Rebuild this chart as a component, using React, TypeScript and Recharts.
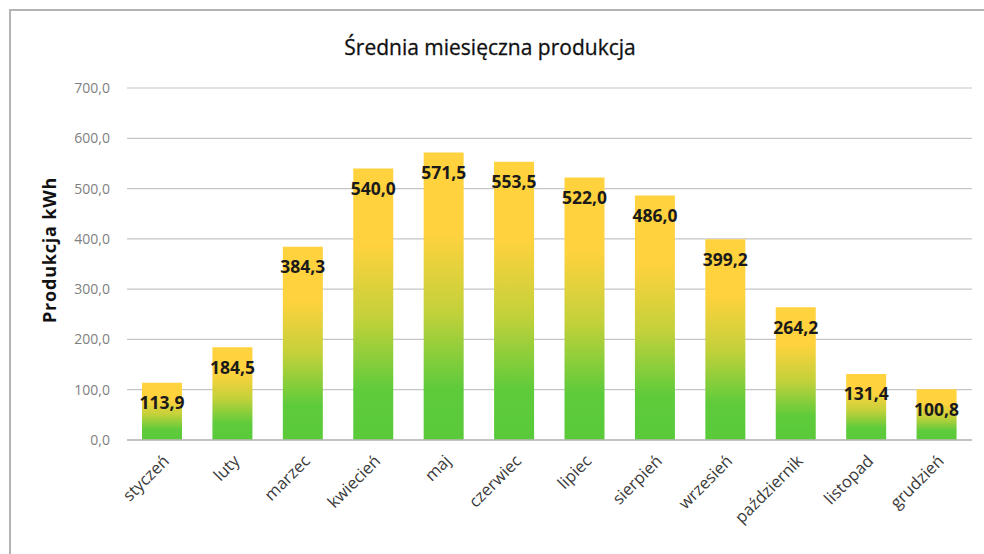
import { BarChart, Bar, XAxis, YAxis, CartesianGrid, LabelList } from "recharts";

const months = [
  "styczeń",
  "luty",
  "marzec",
  "kwiecień",
  "maj",
  "czerwiec",
  "lipiec",
  "sierpień",
  "wrzesień",
  "październik",
  "listopad",
  "grudzień",
];

const production = [113.9, 184.5, 384.3, 540.0, 571.5, 553.5, 522.0, 486.0, 399.2, 264.2, 131.4, 100.8];

const yTicks = [0, 100, 200, 300, 400, 500, 600, 700];

const chartTitle = "Średnia miesięczna produkcja";
const yTitle = "Produkcja kWh";

const data = months.map((m, i) => ({ month: m, value: production[i] }));

const fmt = (v: number) => v.toFixed(1).replace(".", ",");

const FONT = "'Open Sans', 'Noto Sans', sans-serif";

function MonthTick({ x, y, payload }: any) {
  return (
    <text
      x={x + 8}
      y={y + 14}
      textAnchor="end"
      transform={`rotate(-45, ${x + 8}, ${y + 14})`}
      fontSize={16.5}
      fontFamily={FONT}
      fill="#3a3a3a"
    >
      {payload.value}
    </text>
  );
}

function YTitle({ viewBox }: any) {
  const cx = viewBox.x - 18;
  const cy = viewBox.y + viewBox.height / 2 - 14;
  return (
    <text
      x={cx}
      y={cy}
      textAnchor="middle"
      dominantBaseline="central"
      transform={`rotate(-90, ${cx}, ${cy})`}
      fontSize={18}
      fontWeight="bold"
      letterSpacing={0.8}
      fontFamily={FONT}
      fill="#111"
    >
      {yTitle}
    </text>
  );
}

export default function App() {
  return (
    <div
      style={{
        position: "fixed",
        left: 0,
        top: 0,
        width: 984,
        height: 554,
        overflow: "hidden",
        background: "#fff",
      }}
    >
      <div
        style={{
          position: "absolute",
          left: 9,
          top: 9,
          width: 975,
          height: 545,
          borderTop: "2px solid #b4b4b4",
          borderLeft: "2px solid #b4b4b4",
        }}
      >
        <div
          style={{
            position: "absolute",
            left: 0,
            width: 958,
            top: 22,
            textAlign: "center",
            fontFamily: FONT,
            fontSize: 21,
            color: "#111",
            WebkitTextStroke: "0.3px #111",
          }}
        >
          {chartTitle}
        </div>
        <BarChart
          width={973}
          height={540}
          data={data}
          margin={{ top: 77, right: 12, bottom: 31, left: 56 }}
        >
          <defs>
            <linearGradient id="barFill" x1="0" y1="0" x2="0" y2="1">
              <stop offset="0%" stopColor="#FFD23E" />
              <stop offset="28%" stopColor="#FFD23E" />
              <stop offset="55%" stopColor="#C4D13A" />
              <stop offset="82%" stopColor="#5ECB3B" />
              <stop offset="100%" stopColor="#5ACA3A" />
            </linearGradient>
          </defs>
          <CartesianGrid vertical={false} stroke="#c6c6c6" strokeWidth={1.2} />
          <XAxis
            dataKey="month"
            interval={0}
            height={80}
            tick={<MonthTick />}
            tickLine={false}
            axisLine={{ stroke: "#b8b8b8", strokeWidth: 1.5 }}
          />
          <YAxis
            width={60}
            domain={[0, 700]}
            ticks={yTicks}
            tickFormatter={fmt}
            axisLine={false}
            tickLine={false}
            tickMargin={11}
            tick={{ fontSize: 14, fill: "#7f7f7f", fontFamily: FONT }}
            label={<YTitle />}
          />
          <Bar dataKey="value" barSize={40} fill="url(#barFill)" isAnimationActive={false}>
            <LabelList
              dataKey="value"
              position="insideTop"
              offset={14}
              formatter={(v: any) => fmt(Number(v))}
              style={{ fontSize: 17.5, fontWeight: "bold", fontFamily: FONT, fill: "#1a1a1a" }}
            />
          </Bar>
        </BarChart>
      </div>
    </div>
  );
}
